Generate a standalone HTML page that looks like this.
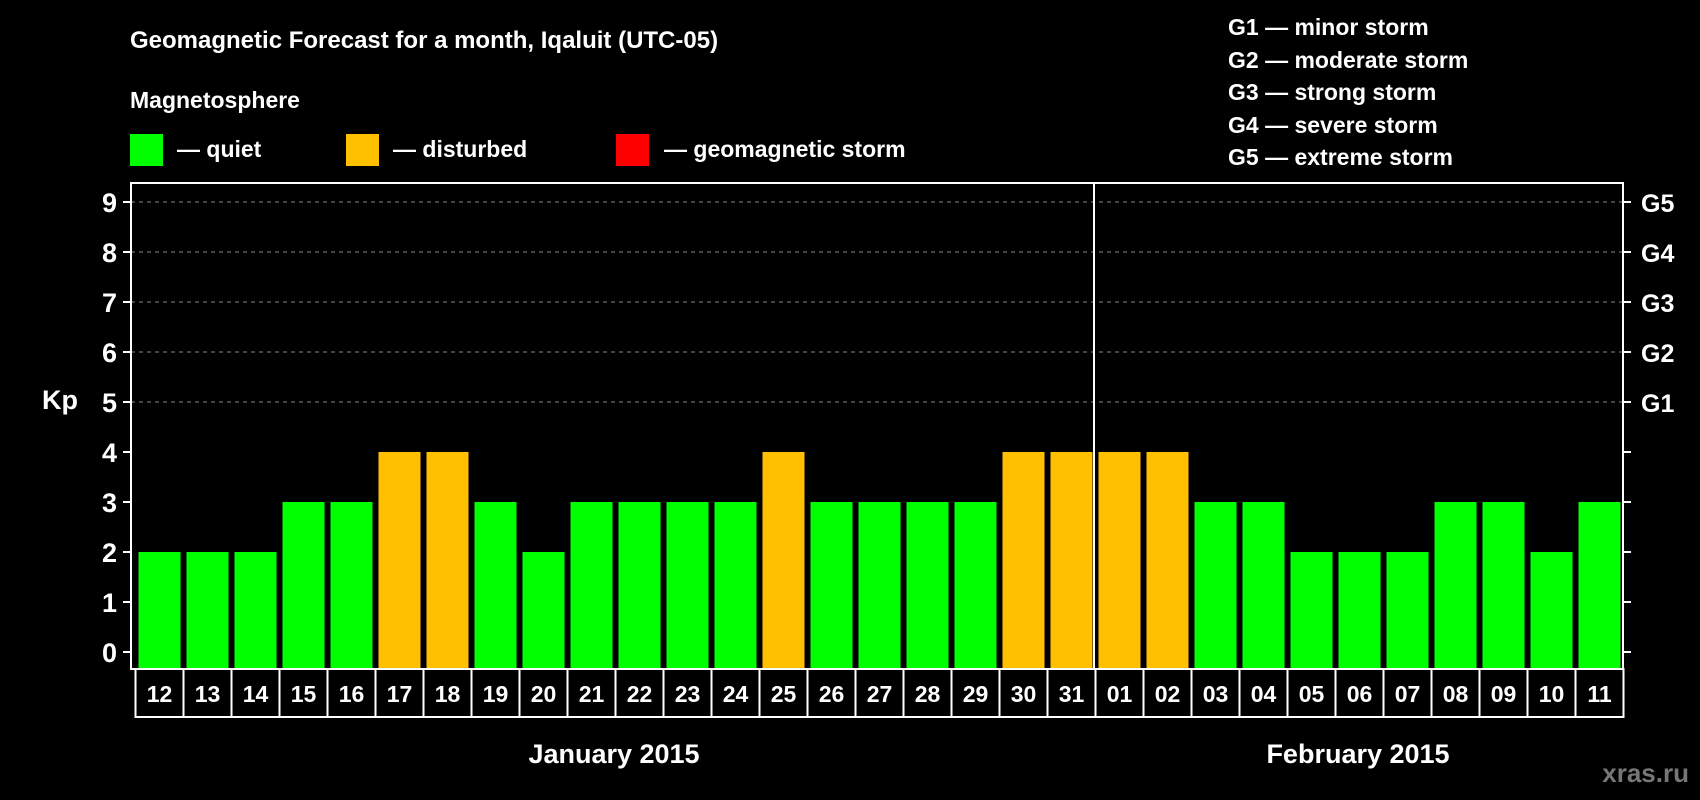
<!DOCTYPE html>
<html><head><meta charset="utf-8"><style>
html,body{margin:0;padding:0;background:#000;}
svg{display:block;font-family:"Liberation Sans",Arial,sans-serif;font-weight:bold;}
</style></head><body>
<svg id="c" width="1700" height="800" viewBox="0 0 1700 800">
<rect width="1700" height="800" fill="#000"/>
<text x="130" y="48" fill="#fff" font-size="24">Geomagnetic Forecast for a month, Iqaluit (UTC-05)</text>
<text x="130" y="108" fill="#fff" font-size="23">Magnetosphere</text>
<g><rect x="130" y="134" width="33" height="32" fill="#00ff00"/><text x="177" y="157" fill="#fff" font-size="23">— quiet</text></g>
<g><rect x="346" y="134" width="33" height="32" fill="#ffc000"/><text x="393" y="157" fill="#fff" font-size="23">— disturbed</text></g>
<g><rect x="616" y="134" width="33" height="32" fill="#ff0000"/><text x="664" y="157" fill="#fff" font-size="23">— geomagnetic storm</text></g>
<g fill="#fff" font-size="23">
<text x="1228" y="35">G1 — minor storm</text>
<text x="1228" y="68">G2 — moderate storm</text>
<text x="1228" y="100">G3 — strong storm</text>
<text x="1228" y="133">G4 — severe storm</text>
<text x="1228" y="165">G5 — extreme storm</text>
</g>
<text x="42" y="409" fill="#fff" font-size="27">Kp</text>
<text x="614" y="763" fill="#fff" font-size="27" text-anchor="middle">January 2015</text>
<text x="1358" y="763" fill="#fff" font-size="27" text-anchor="middle">February 2015</text>
<text x="1689" y="782" fill="#777" font-size="26" text-anchor="end">xras.ru</text>
<g id="plot"></g>
</svg>
<script>
const days=["12","13","14","15","16","17","18","19","20","21","22","23","24","25","26","27","28","29","30","31","01","02","03","04","05","06","07","08","09","10","11"];
const kpValues=[2,2,2,3,3,4,4,3,2,3,3,3,3,4,3,3,3,3,4,4,4,4,3,3,2,2,2,3,3,2,3];
const yTicks=[0,1,2,3,4,5,6,7,8,9];
const gLabels=["G1","G2","G3","G4","G5"];
const gLevels=[5,6,7,8,9];
const monthBreakIndex=20;

const NS="http://www.w3.org/2000/svg";
const plot=document.getElementById('plot');
const L=131,R=1623,T=183,B=669,cellL=135.5,pitch=48,barW=42;
const y=v=>652-v*50;
const x=i=>cellL+i*pitch;
function mk(tag,attrs,parent){const e=document.createElementNS(NS,tag);for(const k in attrs)e.setAttribute(k,attrs[k]);(parent||plot).appendChild(e);return e;}

yTicks.forEach(v=>{
  if(v>=5){const g=mk('line',{x1:L,x2:R,y1:y(v),y2:y(v),stroke:'#888','stroke-width':1,'stroke-dasharray':'4,4'});
  
  }
  const t1=mk('line',{x1:L-8,x2:L,y1:y(v),y2:y(v),stroke:'#fff','stroke-width':2});
  
  
  const t2=mk('line',{x1:R,x2:R+8,y1:y(v),y2:y(v),stroke:'#fff','stroke-width':2});
  
  
  const lb=mk('text',{x:L-14,y:y(v)+10,fill:'#fff','font-size':27,'text-anchor':'end'});
  lb.textContent=v;
  
  
});
gLabels.forEach((g,i)=>{
  const t=mk('text',{x:R+18,y:y(gLevels[i])+10,fill:'#fff','font-size':25});
  t.textContent=g;
  
  
});
kpValues.forEach((v,i)=>{
  const b=mk('rect',{x:x(i)+3,y:y(v),width:barW,height:y(0)-y(v)+17,fill:v>=5?'#ff0000':(v>=4?'#ffc000':'#00ff00')});
  
  
  const c=mk('rect',{x:x(i),y:B,width:pitch,height:48,fill:'none',stroke:'#fff','stroke-width':2});
  
  
  const t=mk('text',{x:x(i)+pitch/2,y:B+33,fill:'#fff','font-size':23,'text-anchor':'middle'});
  t.textContent=days[i];
  
  
});
const fr=mk('rect',{x:L,y:T,width:R-L,height:B-T,fill:'none',stroke:'#fff','stroke-width':2});


const sep=mk('line',{x1:x(monthBreakIndex)-1.5,x2:x(monthBreakIndex)-1.5,y1:T,y2:B,stroke:'#fff','stroke-width':2});


</script>
</body></html>
